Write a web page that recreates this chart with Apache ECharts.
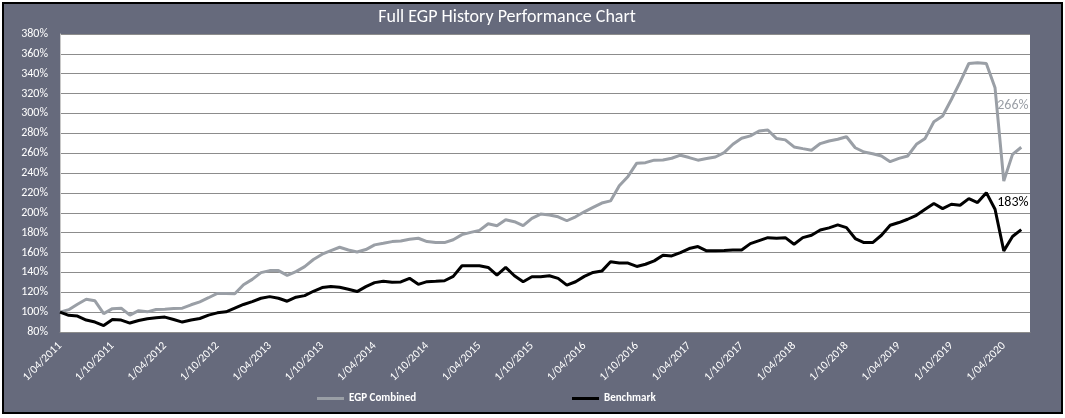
<!DOCTYPE html>
<html>
<head>
<meta charset="utf-8">
<script src="https://cdn.jsdelivr.net/npm/echarts@6/dist/echarts.min.js"></script>
<style>
html,body{margin:0;padding:0;background:#fff;}
#frame{position:absolute;left:2px;top:2px;width:1057px;height:408px;background:#666a7c;border:2px solid #000;}
#chart{position:absolute;left:0;top:0;width:1065px;height:418px;}
</style>
</head>
<body>
<div id="frame"></div>
<div id="chart"></div>
<script>
// Monthly categories: 1/04/2011 ... 1/07/2020 (axis runs one month past the last point)
const categories = [];
for (let i = 0; i < 112; i++) {
  const mm = (3 + i) % 12 + 1;
  const yy = 2011 + Math.floor((3 + i) / 12);
  categories.push('1/' + String(mm).padStart(2, '0') + '/' + yy);
}

const yTicks = { min: 80, max: 380, interval: 20 };

const egpCombined = [
  100, 102.5, 108, 113, 111.4, 98.5, 103.5, 104, 97, 101.5,
  100.3, 102.7, 103, 103.7, 104, 107.4, 110.4, 114.5, 118.8, 118.8,
  118.5, 127.5, 133, 139.8, 141.8, 141.8, 137, 140.8, 145.8, 153,
  158.3, 162, 165.3, 162.6, 160.6, 163, 167.7, 169.3, 171, 171.7,
  173.4, 174.4, 171, 170, 170, 172.9, 178, 180.3, 182.3, 189,
  187, 193, 191, 187, 194.4, 198.7, 197.7, 196, 192, 196,
  201, 205.4, 209.8, 212, 227.2, 236.6, 250, 250.5, 253, 253.2,
  254.9, 258, 255.6, 253, 254.6, 256.2, 260.6, 269, 275, 277.4,
  282.4, 283.4, 274.7, 273.4, 266.3, 264.6, 263, 269.7, 272.3, 274,
  276.6, 265.5, 261.2, 259.5, 257.2, 251.5, 254.8, 257.2, 268.9, 274.9,
  291.7, 297.4, 314.1, 331.5, 350.3, 351, 350.3, 325.8, 232, 258.8,
  266
];

const benchmark = [
  100, 96.8, 96, 92, 90, 86.5, 92.6, 92, 89, 91.6,
  93.3, 94.3, 95, 92.6, 90, 92, 93.6, 97, 99.3, 100.3,
  104, 107.7, 110.6, 114, 115.6, 114, 111, 115, 116.6, 121,
  124.7, 125.7, 125, 123, 120.7, 125.7, 129.7, 131, 130, 130.4,
  134, 128, 130.7, 131, 131.6, 136, 146.7, 146.7, 146.7, 145,
  137.3, 145, 136.6, 130.6, 135.6, 135.6, 136.6, 134, 127.2, 130.6,
  136, 140, 141.3, 150.7, 149.4, 149.4, 146, 148.2, 151.6, 157.3,
  156.6, 160, 164, 166, 161.7, 161.7, 162, 162.6, 162.6, 169,
  172, 175, 174.3, 175, 168.3, 175, 177.4, 182.7, 184.8, 187.8,
  185.1, 174.1, 170, 170, 177.4, 187.5, 190.2, 193.5, 197.5, 203.6,
  209.3, 204.2, 208.6, 207.6, 214.3, 210.3, 220.3, 203.6, 161.7, 176.1,
  183
];

const FONT = "Carlito, Lato, 'Noto Sans', sans-serif";
const GRAY = '#9a9fa6';
const BLACK = '#000000';

const chart = echarts.init(document.getElementById('chart'), null, { renderer: 'canvas' });
chart.setOption({
  animation: false,
  backgroundColor: 'transparent',
  title: {
    text: 'Full EGP History Performance Chart',
    left: 507,
    top: 8,
    textAlign: 'center',
    padding: 0,
    textStyle: { color: '#ffffff', fontSize: 18, fontWeight: 'normal', fontFamily: FONT }
  },
  legend: [
    {
      data: ['EGP Combined'], left: 317, top: 393, padding: 0,
      icon: 'rect', itemWidth: 27, itemHeight: 3,
      textStyle: { color: '#ffffff', fontSize: 11, fontWeight: 'bold', fontFamily: FONT }
    },
    {
      data: ['Benchmark'], left: 572, top: 393, padding: 0,
      icon: 'rect', itemWidth: 27, itemHeight: 3,
      textStyle: { color: '#ffffff', fontSize: 11, fontWeight: 'bold', fontFamily: FONT }
    }
  ],
  grid: {
    left: 60, right: 35, top: 34, bottom: 86,
    show: true, backgroundColor: '#ffffff', borderWidth: 0
  },
  xAxis: {
    type: 'category',
    data: categories,
    boundaryGap: false,
    axisLine: { show: true, lineStyle: { color: '#8c8c8c', width: 1 } },
    axisTick: { show: false },
    splitLine: { show: false },
    axisLabel: {
      interval: 5, rotate: 45, margin: 12,
      color: '#ffffff', fontSize: 11.5, fontFamily: FONT
    }
  },
  yAxis: {
    type: 'value',
    min: yTicks.min, max: yTicks.max, interval: yTicks.interval,
    axisLine: { show: true, lineStyle: { color: '#c8c8c8', width: 1 } },
    axisTick: { show: false },
    splitLine: { show: true, lineStyle: { color: '#8c8c8c', width: 1 } },
    axisLabel: {
      formatter: '{value}%', margin: 12,
      color: '#ffffff', fontSize: 12, fontFamily: FONT
    }
  },
  series: [
    {
      name: 'EGP Combined', type: 'line', data: egpCombined,
      symbol: 'none', showSymbol: false,
      lineStyle: { color: GRAY, width: 3 }, itemStyle: { color: GRAY },
      endLabel: {
        show: true, formatter: p => Math.round(p.value) + '%',
        color: GRAY, fontSize: 14, fontFamily: FONT, offset: [-32, -42]
      },
      z: 2
    },
    {
      name: 'Benchmark', type: 'line', data: benchmark,
      symbol: 'none', showSymbol: false,
      lineStyle: { color: BLACK, width: 3 }, itemStyle: { color: BLACK },
      endLabel: {
        show: true, formatter: p => Math.round(p.value) + '%',
        color: BLACK, fontSize: 14, fontFamily: FONT, offset: [-32, -27]
      },
      z: 3
    }
  ]
});
</script>
</body>
</html>
